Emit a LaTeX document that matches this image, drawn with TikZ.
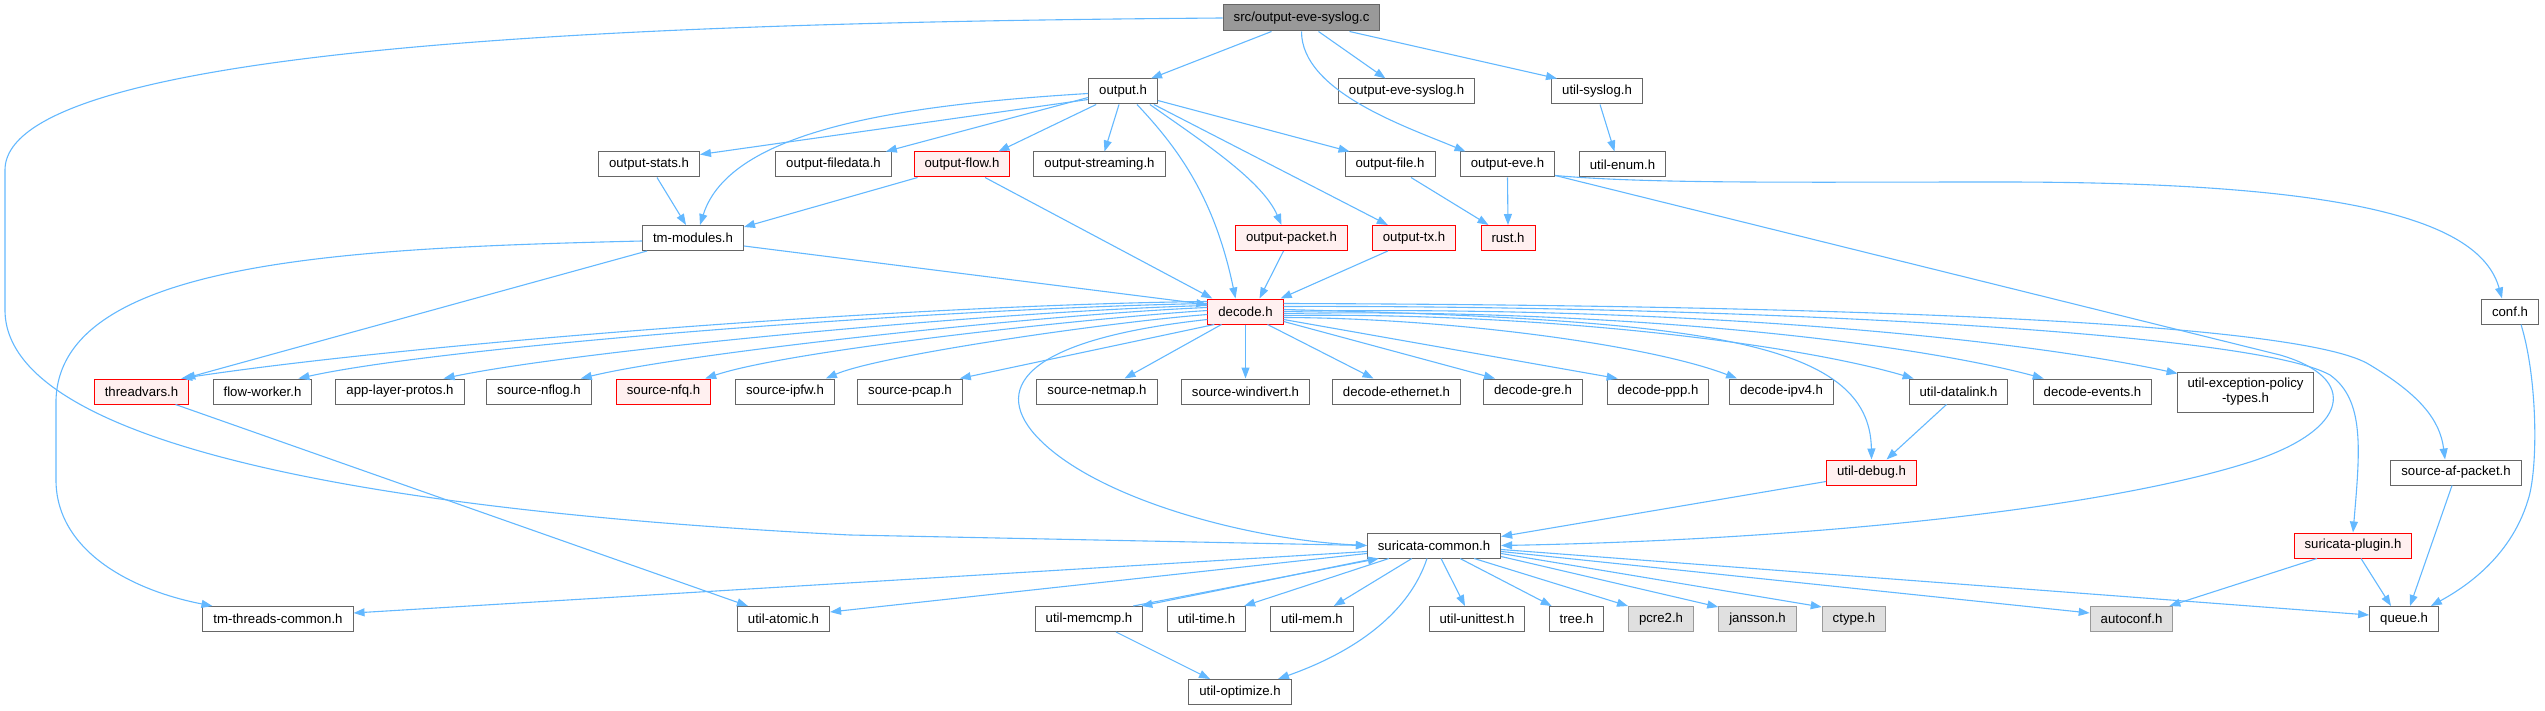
\documentclass[tikz,border=0pt]{standalone}
\usepackage{fontspec}
\setmainfont{Liberation Sans}
\usetikzlibrary{arrows.meta,calc}
\definecolor{edgec}{HTML}{63B8FF}
\definecolor{bordc}{HTML}{666666}
\definecolor{redfill}{HTML}{FFF0F0}
\definecolor{extfill}{HTML}{E0E0E0}
\definecolor{extbord}{HTML}{999999}
\definecolor{rootfill}{HTML}{999999}
\begin{document}
\begin{tikzpicture}[x=1pt,y=-1pt,
  nd/.style={draw=bordc, fill=white, line width=1pt, minimum height=25pt, inner xsep=10.5pt, inner ysep=0pt, font=\fontsize{13.2pt}{15pt}\selectfont, text=black},
  rednd/.style={nd, draw=red, fill=redfill},
  extnd/.style={nd, draw=extbord, fill=extfill},
  rootnd/.style={nd, draw=bordc, fill=rootfill, minimum height=26pt},
  dep/.style={draw=edgec, line width=1.1pt, -{Triangle[length=11pt,width=8pt]}}]
\useasboundingbox (0,0) rectangle (2545,711);
% row 1
\node[rootnd] (root) at (1301.5,18) {src/output-eve-syslog.c};
% row 2
\node[nd] (outh) at (1123,91.5) {output.h};
\node[nd] (oesys) at (1406.5,91.5) {output-eve-syslog.h};
\node[nd] (usyslog) at (1597,91.5) {util-syslog.h};
% row 3
\node[nd] (ostats) at (649,164.5) {output-stats.h};
\node[nd] (ofiledata) at (833.5,164.5) {output-filedata.h};
\node[rednd] (oflow) at (962,164.5) {output-flow.h};
\node[nd] (ostream) at (1099.5,164.5) {output-streaming.h};
\node[nd] (ofile) at (1390,164.5) {output-file.h};
\node[nd] (oeve) at (1507.5,164.5) {output-eve.h};
\node[nd] (uenum) at (1622.5,164.5) {util-enum.h};
% row 4
\node[nd] (tmmod) at (693,238) {tm-modules.h};
\node[rednd] (opacket) at (1291.5,238) {output-packet.h};
\node[rednd] (otx) at (1414,238) {output-tx.h};
\node[rednd] (rust) at (1508,238) {rust.h};
% row 5
\node[rednd] (decode) at (1245.5,311.5) {decode.h};
\node[nd] (conf) at (2510,311.5) {conf.h};
% row 6
\node[rednd] (tvars) at (141.5,391.5) {threadvars.h};
\node[nd] (fworker) at (262.5,391.5) {flow-worker.h};
\node[nd] (alp) at (400,391.5) {app-layer-protos.h};
\node[nd] (snflog) at (539,391.5) {source-nflog.h};
\node[rednd] (snfq) at (663.5,391.5) {source-nfq.h};
\node[nd] (sipfw) at (785,391.5) {source-ipfw.h};
\node[nd] (spcap) at (910,391.5) {source-pcap.h};
\node[nd] (snetmap) at (1097,391.5) {source-netmap.h};
\node[nd] (swindivert) at (1245.5,391.5) {source-windivert.h};
\node[nd] (deth) at (1396.5,391.5) {decode-ethernet.h};
\node[nd] (dgre) at (1533,391.5) {decode-gre.h};
\node[nd] (dppp) at (1658,391.5) {decode-ppp.h};
\node[nd] (dipv4) at (1781.5,391.5) {decode-ipv4.h};
\node[nd] (udatalink) at (1958.5,391.5) {util-datalink.h};
\node[nd] (devents) at (2092.5,391.5) {decode-events.h};
\node[nd, minimum height=40pt, align=center] (uexc) at (2245.5,392) {util-exception-policy\\-types.h};
% row 7
\node[rednd] (udebug) at (1871.5,472.5) {util-debug.h};
\node[nd] (safp) at (2456,472.5) {source-af-packet.h};
% row 8
\node[nd] (scommon) at (1434,545.5) {suricata-common.h};
\node[rednd] (splugin) at (2353,545.5) {suricata-plugin.h};
% row 9
\node[nd] (tmtc) at (278,619) {tm-threads-common.h};
\node[nd] (uatomic) at (783.5,619) {util-atomic.h};
\node[nd] (umemcmp) at (1089,619) {util-memcmp.h};
\node[nd] (utime) at (1206.5,619) {util-time.h};
\node[nd] (umem) at (1312,619) {util-mem.h};
\node[nd] (uunit) at (1477,619) {util-unittest.h};
\node[nd] (tree) at (1576.5,619) {tree.h};
\node[extnd] (pcre) at (1661,619) {pcre2.h};
\node[extnd] (jansson) at (1757.5,619) {jansson.h};
\node[extnd] (ctype) at (1854,619) {ctype.h};
\node[extnd] (autoconf) at (2131.5,619) {autoconf.h};
\node[nd] (queue) at (2404,619) {queue.h};
% row 10
\node[nd] (uopt) at (1240,692) {util-optimize.h};

% ---- edges from root
\draw[dep] ($(root.south)+(-30,0)$) -- ($(outh.north)+(28,0)$);
\draw[dep] ($(root.south)+(17,0)$) -- ($(oesys.north)+(-21,0)$);
\draw[dep] ($(root.south)+(48,0)$) -- ($(usyslog.north)+(-40,0)$);
\draw[dep] (root.south) .. controls +(0,60) and +(-60,-25) .. ($(oeve.north)+(-42,0)$);
\draw[dep] (root.west) .. controls (700,22) and (5,40) .. (5,170) -- (5,310) .. controls (5,440) and (350,510) .. (850,535) -- (scommon.west);
% ---- edges from output.h
\draw[dep] ($(outh.west)+(0,8)$) -- ($(ostats.north east)+(0,3)$);
\draw[dep] ($(outh.west)+(0,2)$) .. controls (900,105) and (730,130) .. ($(tmmod.north)+(7,0)$);
\draw[dep] ($(outh.west)+(0,6)$) -- ($(ofiledata.north east)+(-6,0)$);
\draw[dep] ($(outh.south west)+(8,0)$) -- ($(oflow.north east)+(-12,0)$);
\draw[dep] ($(outh.south)+(-4,0)$) -- ($(ostream.north)+(5,0)$);
\draw[dep] ($(outh.east)+(0,9)$) -- ($(ofile.north west)+(5,0)$);
\draw[dep] ($(outh.south)+(14,0)$) .. controls (1180,150) and (1215,200) .. ($(decode.north)+(-10,0)$);
\draw[dep] ($(outh.south east)+(-8,0)$) .. controls (1200,140) and (1262,180) .. ($(opacket.north)+(-10,0)$);
\draw[dep] ($(outh.south east)+(-4,0)$) -- ($(otx.north west)+(16,0)$);
% ---- others upper
\draw[dep] ($(usyslog.south)+(3,0)$) -- ($(uenum.north)+(-8,0)$);
\draw[dep] ($(ostats.south)+(8,0)$) -- ($(tmmod.north)+(-7,0)$);
\draw[dep] ($(oflow.south west)+(4,0)$) -- ($(tmmod.north east)+(0,2)$);
\draw[dep] ($(oflow.south)+(23,0)$) -- ($(decode.north west)+(5,0)$);
\draw[dep] ($(ofile.south)+(21,0)$) -- ($(rust.north west)+(8,0)$);
\draw[dep] (oeve.south) -- (rust.north);
\draw[dep] ($(oeve.east)+(0,11)$) .. controls (1650,184) and (1800,182) .. (2000,182) .. controls (2350,182) and (2480,220) .. ($(conf.north)+(-8,0)$);
\draw[dep] ($(oeve.south east)+(0,-2)$) -- (2280,355) .. controls (2360,378) and (2350,430) .. (2250,462) .. controls (2100,510) and (1800,540) .. (scommon.east);
\draw[dep] ($(opacket.south)+(-8,0)$) -- ($(decode.north)+(14,0)$);
\draw[dep] ($(otx.south west)+(16,0)$) -- ($(decode.north east)+(-3,0)$);
% ---- tm-modules
\draw[dep] ($(tmmod.east)+(0,8)$) -- ($(decode.west)+(0,-7)$);
\draw[dep] ($(tmmod.south west)+(5,0)$) -- ($(tvars.north east)+(-5,0)$);
\draw[dep] ($(tmmod.west)+(0,3)$) .. controls (350,248) and (60,260) .. (56,400) -- (56,480) .. controls (56,550) and (130,590) .. ($(tmtc.north west)+(10,0)$);
% ---- decode fan left
\draw[dep] ($(decode.west)+(0,-10)$) .. controls (900,305) and (400,345) .. ($(tvars.north east)+(-8,0)$);
\draw[dep] ($(decode.west)+(0,-8)$) .. controls (950,308) and (450,345) .. ($(fworker.north east)+(-14,0)$);
\draw[dep] ($(decode.west)+(0,-6)$) .. controls (1000,311) and (580,350) .. ($(alp.north east)+(-21,0)$);
\draw[dep] ($(decode.west)+(0,-4)$) .. controls (1050,314) and (690,352) .. ($(snflog.north east)+(-11,0)$);
\draw[dep] ($(decode.west)+(0,-1)$) .. controls (1090,318) and (790,350) .. ($(snfq.north east)+(-6,0)$);
\draw[dep] ($(decode.west)+(0,3)$) .. controls (1110,322) and (880,355) .. ($(sipfw.north east)+(-9,0)$);
\draw[dep] ($(decode.south west)+(7,0)$) -- ($(spcap.north east)+(-3,0)$);
% ---- decode down
\draw[dep] ($(decode.south)+(-24,0)$) -- ($(snetmap.north east)+(-33,0)$);
\draw[dep] (decode.south) -- (swindivert.north);
\draw[dep] ($(decode.south)+(22,0)$) -- ($(deth.north)+(-23,0)$);
\draw[dep] ($(decode.east)+(0,10)$) -- ($(dgre.north)+(-38,0)$);
\draw[dep] ($(decode.east)+(0,8)$) -- ($(dppp.north west)+(11,0)$);
% ---- decode fan right
\draw[dep] ($(decode.east)+(0,6)$) .. controls (1450,318) and (1650,345) .. ($(dipv4.north west)+(8,0)$);
\draw[dep] ($(decode.east)+(0,4)$) .. controls (1550,312) and (1800,345) .. ($(udatalink.north west)+(5,0)$);
\draw[dep] ($(decode.east)+(0,2)$) .. controls (1600,308) and (1900,340) .. ($(devents.north west)+(11,0)$);
\draw[dep] ($(decode.east)+(0,0)$) .. controls (1650,305) and (2000,335) .. ($(uexc.north west)+(1,2)$);
\draw[dep] ($(decode.east)+(0,-2)$) .. controls (1700,320) and (1870,340) .. (udebug.north);
\draw[dep] ($(decode.east)+(0,-5)$) .. controls (1700,305) and (2250,330) .. (2330,375) .. controls (2365,400) and (2360,450) .. (splugin.north);
\draw[dep] ($(decode.east)+(0,-8)$) .. controls (1800,305) and (2300,320) .. (2370,365) .. controls (2420,395) and (2440,420) .. ($(safp.north)+(-11,0)$);
\draw[dep] ($(decode.west)+(0,8)$) .. controls (1020,340) and (990,390) .. (1040,440) .. controls (1100,500) and (1250,540) .. (scommon.west);
% ---- middle
\draw[dep] ($(udatalink.south)+(-12,0)$) -- ($(udebug.north)+(15,0)$);
\draw[dep] ($(udebug.west)+(0,9)$) -- ($(scommon.north east)+(0,4)$);
\draw[dep] ($(safp.south)+(-4,0)$) -- ($(queue.north)+(6,0)$);
\draw[dep] ($(conf.south)+(11,0)$) .. controls (2538,380) and (2538,470) .. (2528,500) .. controls (2510,560) and (2460,590) .. ($(queue.north east)+(-8,0)$);
\draw[dep] ($(splugin.south)+(8,0)$) -- ($(queue.north)+(-13,0)$);
\draw[dep] ($(splugin.south)+(-36,0)$) -- ($(autoconf.north east)+(-4,0)$);
\draw[dep] ($(tvars.south)+(34,0)$) -- ($(uatomic.north west)+(11,0)$);
% ---- suricata-common children
\draw[dep] ($(scommon.west)+(0,6)$) -- ($(tmtc.east)+(0,-6)$);
\draw[dep] ($(scommon.west)+(0,8)$) -- ($(uatomic.east)+(0,-7)$);
\draw[dep] ($(scommon.south west)+(8,0)$) -- ($(umemcmp.north east)+(-2,0)$);
\draw[dep] ($(umemcmp.north east)+(-10,0)$) -- ($(scommon.south west)+(12,0)$);
\draw[dep] ($(scommon.south west)+(22,0)$) -- ($(utime.north east)+(-2,0)$);
\draw[dep] ($(scommon.south west)+(45,0)$) -- ($(umem.north east)+(-20,0)$);
\draw[dep] ($(scommon.south)+(-7,0)$) .. controls (1410,610) and (1360,650) .. ($(uopt.north)+(38,0)$);
\draw[dep] ($(scommon.south)+(7,0)$) -- ($(uunit.north)+(-12,0)$);
\draw[dep] ($(scommon.south)+(26,0)$) -- ($(tree.north west)+(3,0)$);
\draw[dep] ($(scommon.south east)+(-27,0)$) -- (pcre.north west);
\draw[dep] ($(scommon.south east)+(0,-2)$) -- ($(jansson.north west)+(0,1)$);
\draw[dep] ($(scommon.east)+(0,8)$) -- ($(ctype.north west)+(0,1)$);
\draw[dep] ($(scommon.east)+(0,6)$) -- ($(autoconf.west)+(0,-6)$);
\draw[dep] ($(scommon.east)+(0,4)$) -- ($(queue.west)+(0,-4)$);
\draw[dep] ($(umemcmp.south)+(27,0)$) -- ($(uopt.north)+(-30,0)$);
\end{tikzpicture}
\end{document}
